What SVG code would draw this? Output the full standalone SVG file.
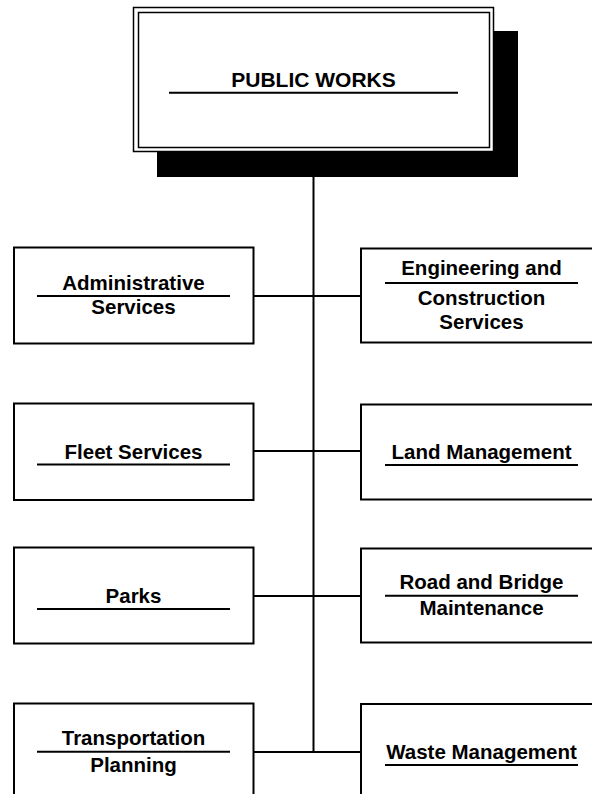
<svg xmlns="http://www.w3.org/2000/svg" width="592" height="794" viewBox="0 0 592 794">
<style>
.box{fill:#fff;stroke:#000;stroke-width:2}
.ul{stroke:#000;stroke-width:2}
.ln{stroke:#000;stroke-width:2;fill:none}
text{font-family:"Liberation Sans",Arial,sans-serif;font-weight:bold;font-size:20.5px;fill:#000;text-anchor:middle}
</style>
<rect width="592" height="794" fill="#fff"/>
<g id="connectors">
<line class="ln" x1="313.5" y1="151" x2="313.5" y2="752"/>
<line class="ln" x1="253.5" y1="296" x2="361" y2="296"/>
<line class="ln" x1="253.5" y1="451" x2="361" y2="451"/>
<line class="ln" x1="253.5" y1="596" x2="361" y2="596"/>
<line class="ln" x1="253.5" y1="752" x2="361" y2="752"/>
</g>
<g id="public-works">
<rect x="157" y="31" width="361" height="146" fill="#000"/>
<rect x="133.5" y="7.5" width="360" height="144" fill="#fff" stroke="#000" stroke-width="1.5"/>
<rect x="138.5" y="12.5" width="351" height="135" fill="none" stroke="#000" stroke-width="1.5"/>
<text x="313.5" y="87" style="font-size:21px">PUBLIC WORKS</text>
<line class="ul" x1="169" y1="92.7" x2="458" y2="92.7"/>
</g>
<g id="administrative-services">
<rect class="box" x="14" y="247.5" width="239.5" height="96"/>
<text x="133.5" y="290">Administrative</text>
<line class="ul" x1="37" y1="296" x2="230" y2="296"/>
<text x="133.5" y="314">Services</text>
</g>
<g id="engineering">
<rect class="box" x="361" y="248.5" width="242" height="94"/>
<text x="481.5" y="275">Engineering and</text>
<line class="ul" x1="385" y1="283" x2="578" y2="283"/>
<text x="481.5" y="305">Construction</text>
<text x="481.5" y="328.5">Services</text>
</g>
<g id="fleet-services">
<rect class="box" x="14" y="403.5" width="239.5" height="96.5"/>
<text x="133.5" y="458.5">Fleet Services</text>
<line class="ul" x1="37" y1="464.5" x2="230" y2="464.5"/>
</g>
<g id="land-management">
<rect class="box" x="361" y="404.5" width="242" height="95"/>
<text x="481.5" y="459">Land Management</text>
<line class="ul" x1="385" y1="465" x2="578" y2="465"/>
</g>
<g id="parks">
<rect class="box" x="14" y="547.5" width="239.5" height="96"/>
<text x="133.5" y="602.5">Parks</text>
<line class="ul" x1="37" y1="609" x2="230" y2="609"/>
</g>
<g id="road-bridge">
<rect class="box" x="361" y="548.5" width="242" height="94"/>
<text x="481.5" y="588.5">Road and Bridge</text>
<line class="ul" x1="385" y1="595.7" x2="578" y2="595.7"/>
<text x="481.5" y="615">Maintenance</text>
</g>
<g id="transportation-planning">
<rect class="box" x="14" y="703.5" width="239.5" height="96"/>
<text x="133.5" y="745">Transportation</text>
<line class="ul" x1="37" y1="751.7" x2="230" y2="751.7"/>
<text x="133.5" y="771.5">Planning</text>
</g>
<g id="waste-management">
<rect class="box" x="361" y="704" width="242" height="96"/>
<text x="481.5" y="758.5">Waste Management</text>
<line class="ul" x1="385" y1="765" x2="578" y2="765"/>
</g>
</svg>
